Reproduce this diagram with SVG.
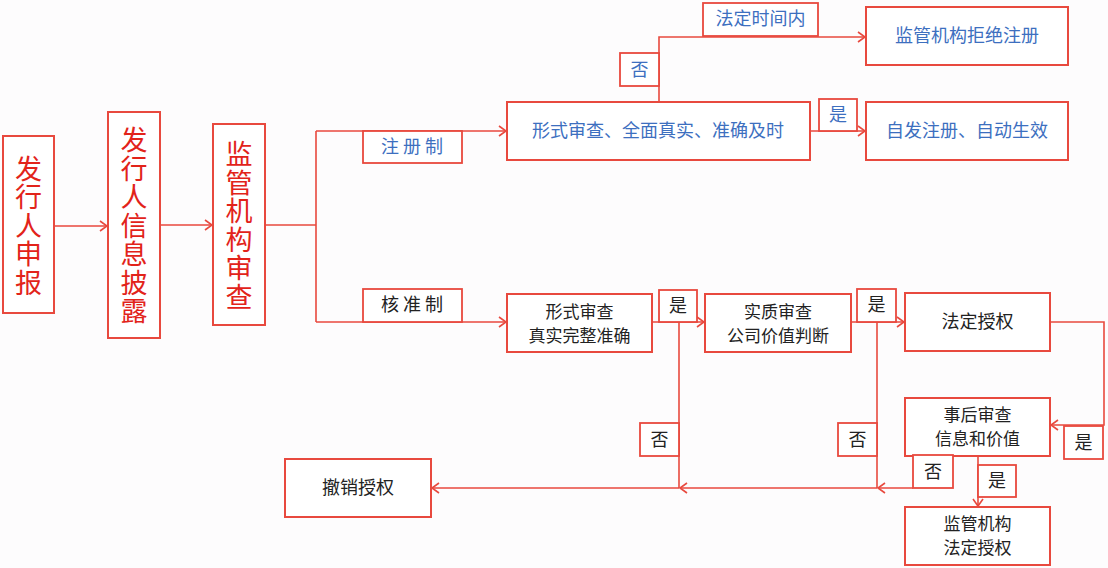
<svg xmlns="http://www.w3.org/2000/svg" width="1108" height="568" viewBox="0 0 1108 568">
<defs>
<style>
.box{fill:#fff;stroke:#e8493e;stroke-width:2}
.lbl{fill:#fff;stroke:#e8493e;stroke-width:1.8}
.ln{fill:none;stroke:#e8493e;stroke-width:1.6}
.red{font-family:"Noto Sans CJK SC",sans-serif;font-size:27px;fill:#e2231a;text-anchor:middle;writing-mode:tb;letter-spacing:1.5px}
.blue{font-family:"Noto Sans CJK SC",sans-serif;font-size:18px;fill:#3d6fbf;text-anchor:middle}
.blk{font-family:"Noto Sans CJK SC",sans-serif;font-size:18px;fill:#222;text-anchor:middle}
.blk2{font-family:"Noto Sans CJK SC",sans-serif;font-size:17px;fill:#222;text-anchor:middle}
</style>
<marker id="ar" markerUnits="userSpaceOnUse" markerWidth="10" markerHeight="12" refX="8" refY="6" orient="auto">
<path d="M1,1 L8,6 L1,11" fill="none" stroke="#e8493e" stroke-width="1.6"/>
</marker>
</defs>
<rect width="1108" height="568" fill="#fdfcfd"/>
<g id="connectors">
<path class="ln" d="M54,226 H107" marker-end="url(#ar)"/>
<path class="ln" d="M160,225 H212" marker-end="url(#ar)"/>
<path class="ln" d="M265,225 H316 M316,131 V322"/>
<path class="ln" d="M316,131 H506" marker-end="url(#ar)"/>
<path class="ln" d="M316,322 H506" marker-end="url(#ar)"/>
<path class="ln" d="M659,102 V37 H865" marker-end="url(#ar)"/>
<path class="ln" d="M810,131 H865" marker-end="url(#ar)"/>
<path class="ln" d="M652,322 H704" marker-end="url(#ar)"/>
<path class="ln" d="M679,322 V488"/>
<path class="ln" d="M851,322 H904" marker-end="url(#ar)"/>
<path class="ln" d="M877,322 V488"/>
<path class="ln" d="M1050,322 H1104 V425 H1051" marker-end="url(#ar)"/>
<path class="ln" d="M978,456 V506" marker-end="url(#ar)"/>
<path class="ln" d="M913,488 H878" marker-end="url(#ar)"/>
<path class="ln" d="M877,488 H680" marker-end="url(#ar)"/>
<path class="ln" d="M679,488 H432" marker-end="url(#ar)"/>
</g>
<g id="n1"><rect class="box" x="3" y="136" width="51" height="177"/>
<text class="red" x="28.5" y="226">发行人申报</text></g>
<g id="n2"><rect class="box" x="108" y="112" width="52" height="226"/>
<text class="red" x="134" y="226">发行人信息披露</text></g>
<g id="n3"><rect class="box" x="213" y="124" width="52" height="201"/>
<text class="red" x="239" y="226">监管机构审查</text></g>
<g id="l-zhuce"><rect class="lbl" x="363" y="131" width="99" height="32"/><text class="blue" x="412" y="153" xml:space="preserve">注 册 制</text></g>
<g id="l-hezhun"><rect class="lbl" x="363" y="289" width="99" height="33"/><text class="blk" x="412" y="311" xml:space="preserve">核 准 制</text></g>
<g id="n4"><rect class="box" x="507" y="102" width="303" height="58"/><text class="blue" x="658" y="137">形式审查、全面真实、准确及时</text></g>
<g id="l-fou1"><rect class="lbl" x="620" y="53" width="39" height="33"/><text class="blue" x="639.5" y="76">否</text></g>
<g id="l-fading"><rect class="lbl" x="703" y="3" width="115" height="33"/><text class="blue" x="760.5" y="25">法定时间内</text></g>
<g id="n5"><rect class="box" x="866" y="7" width="202" height="58"/><text class="blue" x="967" y="42">监管机构拒绝注册</text></g>
<g id="l-shi1"><rect class="lbl" x="819" y="99" width="38" height="32"/><text class="blue" x="838" y="121">是</text></g>
<g id="n6"><rect class="box" x="866" y="102" width="202" height="58"/><text class="blue" x="967" y="137">自发注册、自动生效</text></g>
<g id="n7"><rect class="box" x="507" y="294" width="145" height="58"/><text class="blk2"><tspan x="579.5" y="317.5">形式审查</tspan><tspan x="579.5" y="341.5">真实完整准确</tspan></text></g>
<g id="l-shi2"><rect class="lbl" x="659" y="290" width="38" height="32"/><text class="blk" x="678" y="312">是</text></g>
<g id="n8"><rect class="box" x="705" y="294" width="146" height="58"/><text class="blk2"><tspan x="778" y="317.5">实质审查</tspan><tspan x="778" y="341.5">公司价值判断</tspan></text></g>
<g id="l-shi3"><rect class="lbl" x="857" y="289" width="39" height="33"/><text class="blk" x="876.5" y="311">是</text></g>
<g id="n9"><rect class="box" x="905" y="293" width="145" height="58"/><text class="blk" x="977.5" y="328">法定授权</text></g>
<g id="l-fou2"><rect class="lbl" x="640" y="423" width="39" height="33"/><text class="blk" x="659.5" y="446">否</text></g>
<g id="l-fou3"><rect class="lbl" x="838" y="423" width="39" height="33"/><text class="blk" x="857.5" y="446">否</text></g>
<g id="n10"><rect class="box" x="905" y="398" width="145" height="58"/><text class="blk2"><tspan x="977.5" y="420.5">事后审查</tspan><tspan x="977.5" y="444.5">信息和价值</tspan></text></g>
<g id="l-shi4"><rect class="lbl" x="1064" y="426" width="39" height="33"/><text class="blk" x="1083.5" y="449">是</text></g>
<g id="l-fou4"><rect class="lbl" x="913" y="455" width="40" height="33"/><text class="blk" x="933" y="478">否</text></g>
<g id="l-shi5"><rect class="lbl" x="978" y="465" width="38" height="32"/><text class="blk" x="997" y="487">是</text></g>
<g id="n11"><rect class="box" x="285" y="459" width="146" height="58"/><text class="blk" x="358" y="494">撤销授权</text></g>
<g id="n12"><rect class="box" x="905" y="507" width="145" height="58"/><text class="blk2"><tspan x="977.5" y="529.5">监管机构</tspan><tspan x="977.5" y="553.5">法定授权</tspan></text></g>
</svg>
